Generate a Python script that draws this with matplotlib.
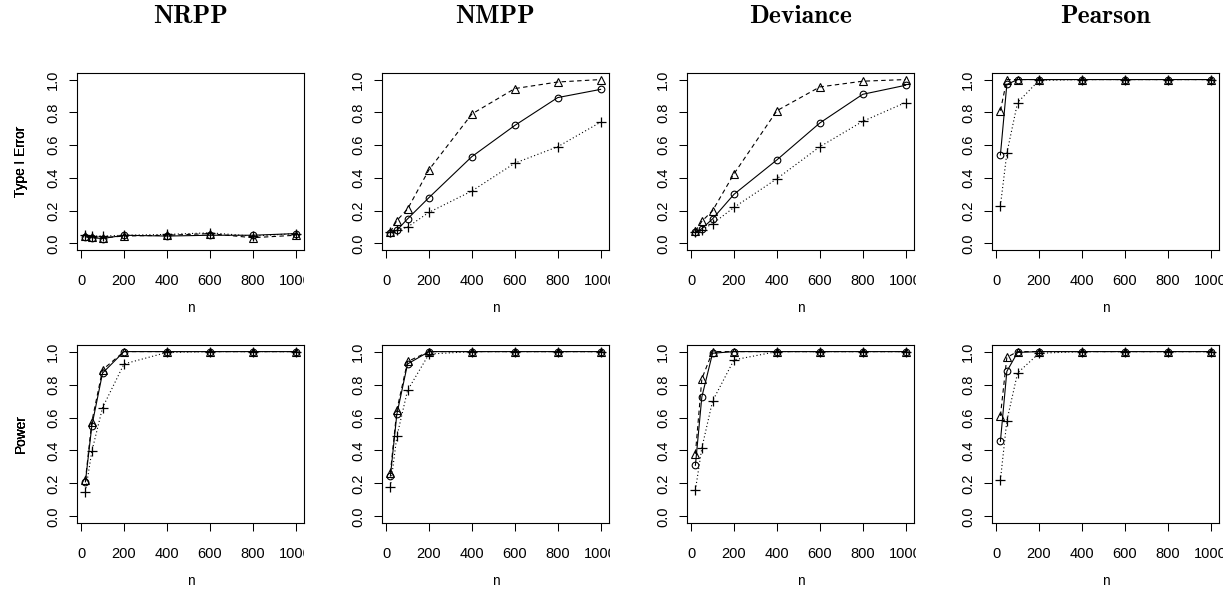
import matplotlib
matplotlib.use("Agg")
import matplotlib.pyplot as plt
from matplotlib.transforms import Bbox, TransformedBbox

plt.rcParams['font.family'] = ['Liberation Sans', 'DejaVu Sans']

n = [20, 50, 100, 200, 400, 600, 800, 1000]
tests = ["NRPP", "NMPP", "Deviance", "Pearson"]
row_labels = ["Type I Error", "Power"]
xticks = [0, 200, 400, 600, 800, 1000]
yticks = [0.0, 0.2, 0.4, 0.6, 0.8, 1.0]

# Type I error: circle (solid), triangle (dashed), plus (dotted)
nrpp_t1_circ = [0.04, 0.035, 0.03, 0.05, 0.045, 0.05, 0.05, 0.06]
nrpp_t1_tri = [0.045, 0.04, 0.035, 0.045, 0.05, 0.06, 0.035, 0.05]
nrpp_t1_plus = [0.05, 0.045, 0.045, 0.05, 0.055, 0.065, 0.045, 0.06]

nmpp_t1_circ = [0.065, 0.08, 0.15, 0.28, 0.53, 0.72, 0.89, 0.94]
nmpp_t1_tri = [0.07, 0.14, 0.21, 0.45, 0.79, 0.945, 0.985, 1.0]
nmpp_t1_plus = [0.07, 0.08, 0.10, 0.19, 0.32, 0.49, 0.59, 0.74]

dev_t1_circ = [0.07, 0.09, 0.15, 0.30, 0.51, 0.735, 0.91, 0.965]
dev_t1_tri = [0.075, 0.135, 0.20, 0.425, 0.81, 0.955, 0.99, 1.0]
dev_t1_plus = [0.07, 0.085, 0.12, 0.22, 0.395, 0.59, 0.745, 0.86]

pea_t1_circ = [0.54, 0.97, 1.0, 1.0, 1.0, 1.0, 1.0, 1.0]
pea_t1_tri = [0.81, 1.0, 1.0, 1.0, 1.0, 1.0, 1.0, 1.0]
pea_t1_plus = [0.23, 0.55, 0.86, 0.995, 1.0, 1.0, 1.0, 1.0]

# Power
nrpp_pw_circ = [0.21, 0.55, 0.87, 1.0, 1.0, 1.0, 1.0, 1.0]
nrpp_pw_tri = [0.22, 0.575, 0.89, 1.0, 1.0, 1.0, 1.0, 1.0]
nrpp_pw_plus = [0.15, 0.395, 0.66, 0.925, 0.995, 1.0, 1.0, 1.0]

nmpp_pw_circ = [0.245, 0.62, 0.925, 1.0, 1.0, 1.0, 1.0, 1.0]
nmpp_pw_tri = [0.265, 0.645, 0.94, 1.0, 1.0, 1.0, 1.0, 1.0]
nmpp_pw_plus = [0.18, 0.485, 0.765, 0.985, 1.0, 1.0, 1.0, 1.0]

dev_pw_circ = [0.31, 0.725, 0.99, 1.0, 1.0, 1.0, 1.0, 1.0]
dev_pw_tri = [0.38, 0.835, 1.0, 1.0, 1.0, 1.0, 1.0, 1.0]
dev_pw_plus = [0.16, 0.415, 0.70, 0.95, 1.0, 1.0, 1.0, 1.0]

pea_pw_circ = [0.455, 0.88, 0.995, 1.0, 1.0, 1.0, 1.0, 1.0]
pea_pw_tri = [0.61, 0.965, 1.0, 1.0, 1.0, 1.0, 1.0, 1.0]
pea_pw_plus = [0.22, 0.58, 0.87, 0.99, 1.0, 1.0, 1.0, 1.0]

data = [
    [(nrpp_t1_circ, nrpp_t1_tri, nrpp_t1_plus),
     (nmpp_t1_circ, nmpp_t1_tri, nmpp_t1_plus),
     (dev_t1_circ, dev_t1_tri, dev_t1_plus),
     (pea_t1_circ, pea_t1_tri, pea_t1_plus)],
    [(nrpp_pw_circ, nrpp_pw_tri, nrpp_pw_plus),
     (nmpp_pw_circ, nmpp_pw_tri, nmpp_pw_plus),
     (dev_pw_circ, dev_pw_tri, dev_pw_plus),
     (pea_pw_circ, pea_pw_tri, pea_pw_plus)],
]

W, H = 1225, 590
fig = plt.figure(figsize=(W / 100, H / 100), dpi=100)

lefts = [77, 382, 687, 992]
axw = 227
rows = [(73, 250), (345, 523)]
xlabel_y = [308, 581]
fs_tick = 10.5
fs_lab = 9.8

xspan = n[-1] - n[0]
xlim = (n[0] - 0.04 * xspan, n[-1] + 0.04 * xspan)
ylim = (-0.04, 1.04)

for r, (top, bot) in enumerate(rows):
    for c in range(4):
        x0 = lefts[c]
        ax = fig.add_axes([x0 / W, 1 - bot / H, axw / W, (bot - top) / H])
        circ, tri, plus = data[r][c]
        ax.plot(n, circ, color='black', lw=0.8, ls='-', marker='o', ms=4.8,
                mfc='none', mec='black', mew=0.8)
        ax.plot(n, tri, color='black', lw=0.8, ls=(0, (4, 3)), marker='^', ms=6.4,
                mfc='none', mec='black', mew=0.8)
        ax.plot(n, plus, color='black', lw=0.8, ls=(0, (1, 2.2)), marker='+', ms=7.2,
                mec='black', mew=0.9)
        ax.set_xlim(*xlim)
        ax.set_ylim(*ylim)
        ax.set_xticks(xticks)
        ax.set_xticklabels([str(v) for v in xticks])
        ax.set_yticks(yticks)
        ax.set_yticklabels([f"{v:.1f}" for v in yticks], rotation=90, va='center')
        ax.tick_params(axis='both', direction='out', length=6, width=0.75,
                       labelsize=fs_tick, color='black')
        ax.tick_params(axis='x', pad=11)
        ax.tick_params(axis='y', pad=6)
        for sp in ax.spines.values():
            sp.set_linewidth(0.8)
            sp.set_color('black')
        ax.set_xlabel("n", fontsize=fs_lab)
        ax.xaxis.set_label_coords(0.5, -(xlabel_y[r] - bot) / (bot - top))
        ax.xaxis.label.set_va('center')
        ax.set_ylabel(row_labels[r], fontsize=fs_lab)
        ax.yaxis.set_label_coords((21 - x0) / axw, 0.5)
        ax.yaxis.label.set_va('center')
        # clip tick labels to panel region (as R does)
        clip = TransformedBbox(Bbox.from_extents(c / 4, 0, (c + 1) / 4 - 0.002, 1),
                               fig.transFigure)
        for t in ax.xaxis.get_major_ticks():
            t.label1.set_clip_on(True)
            t.label1.set_clip_box(clip)
        if r == 0:
            fig.text((x0 + axw / 2) / W, 1 - 23 / H, tests[c], fontfamily='cmb10',
                     fontsize=18.5, ha='center', va='baseline')

fig.savefig("out.png", dpi=100)
